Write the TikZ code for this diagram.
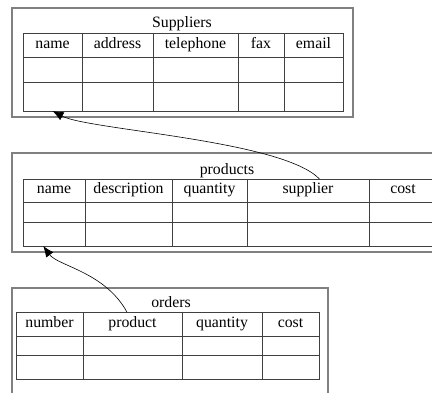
\documentclass[tikz,border=0pt]{standalone}
\usepackage{fontspec}
\setmainfont{Liberation Serif}
\usetikzlibrary{positioning,arrows.meta}

\begin{document}
\begin{tikzpicture}[x=1pt,y=-1pt,font=\fontsize{15.8}{18}\selectfont]
 	\tikzstyle{cell}=[rectangle, draw=black!75, line width=0.9pt, inner sep=0pt, outer sep=0pt, text height=10pt, text depth=4pt]
 	\tikzstyle{tframe}=[rectangle, draw=black!50, line width=1.6pt, inner sep=0pt]
 	\tikzstyle{tname}=[inner sep=0pt, text height=10pt, text depth=4pt]
 	\tikzstyle{connect}=[-{Latex[length=11pt,width=9pt]}, line width=0.6pt]
 	\useasboundingbox (0,0) rectangle (432,392);
 	\clip (0,0) rectangle (432,392);

 	% Suppliers
 	\node[tframe, minimum width=341, minimum height=109] (suppliers) at (182.5,62.5) {};
 	\node[tname] (s-title) at (182,24) {Suppliers};
 	\foreach \col/\xa/\xb in {name/23/82, address/82/153, telephone/153/238, fax/238/284, email/284/343}{
 		\node[cell, minimum width=\xb-\xa, minimum height=24] (s-\col-1) at ({(\xa+\xb)/2},45) {\col};
 		\node[cell, minimum width=\xb-\xa, minimum height=25] (s-\col-2) [below=0pt of s-\col-1] {};
 		\node[cell, minimum width=\xb-\xa, minimum height=29] (s-\col-3) [below=0pt of s-\col-2] {};
 	}

 	% products
 	\node[tframe, minimum width=435, minimum height=99] (products) at (229.5,202.5) {};
 	\node[tname] (p-title) at (227,171) {products};
 	\foreach \col/\xa/\xb in {name/23/85, description/85/172, quantity/172/247, supplier/247/369, cost/369/437}{
 		\node[cell, minimum width=\xb-\xa, minimum height=23] (p-\col-1) at ({(\xa+\xb)/2},190.5) {\col};
 		\node[cell, minimum width=\xb-\xa, minimum height=20] (p-\col-2) [below=0pt of p-\col-1] {};
 		\node[cell, minimum width=\xb-\xa, minimum height=24] (p-\col-3) [below=0pt of p-\col-2] {};
 	}

 	% orders
 	\node[tframe, minimum width=316, minimum height=112] (orders) at (170,344) {};
 	\node[tname] (o-title) at (171,304) {orders};
 	\foreach \col/\xa/\xb in {number/16/83, product/83/182, quantity/182/262, cost/262/319}{
 		\node[cell, minimum width=\xb-\xa, minimum height=24] (o-\col-1) at ({(\xa+\xb)/2},324) {\col};
 		\node[cell, minimum width=\xb-\xa, minimum height=19] (o-\col-2) [below=0pt of o-\col-1] {};
 		\node[cell, minimum width=\xb-\xa, minimum height=24] (o-\col-3) [below=0pt of o-\col-2] {};
 	}

 	% foreign keys
 	\draw[connect] (p-supplier-1.45) .. controls (282,140) and (88,130) .. (s-name-3.south);
 	\draw[connect] (o-product-1.115) .. controls (105,272) and (58,266) .. (p-name-3.228);
\end{tikzpicture}
\end{document}
